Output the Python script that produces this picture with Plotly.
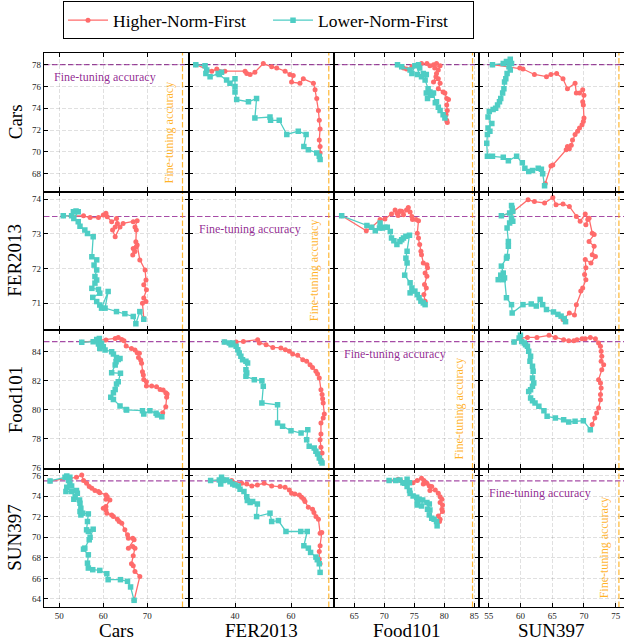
import plotly.graph_objects as go
from plotly.subplots import make_subplots

# ---------------- data ----------------
datasets = ["Cars", "FER2013", "Food101", "SUN397"]
finetune_acc = [78.0, 73.5, 84.7, 75.5]
series_names = ["Higher-Norm-First", "Lower-Norm-First"]

# axis layout values (range / tick step) per dataset
x_ranges = [[46.52, 79.48], [23.57, 75.36], [61.62, 85.78], [53.48, 76.3]]
x_dticks = [10, 20, 5, 5]
y_ranges = [[66.37, 79.07], [70.23, 74.22], [75.94, 85.50], [63.22, 76.70]]
y_dticks = [2, 1, 2, 2]

# --- row Cars (y = Cars acc) ---
cars_fer_hnf_x = [26.0, 31.7, 33.5, 36.4, 43.6, 44.2, 45.4, 47.1, 50.1, 53.1, 54.9, 57.9, 59.6, 60.8, 60.2, 63.2, 64.4, 68.0, 68.6, 69.2, 69.8, 70.1, 70.4, 70.1, 70.4, 70.4]
cars_fer_hnf_y = [78.0, 77.4, 77.6, 77.4, 77.4, 77.2, 77.1, 77.3, 78.1, 77.8, 77.7, 77.4, 77.1, 77.0, 76.4, 76.3, 76.7, 76.3, 75.7, 74.9, 73.8, 72.9, 72.1, 71.1, 70.5, 69.9]
cars_fer_lnf_x = [26.0, 29.3, 29.9, 29.6, 31.1, 34.0, 35.2, 34.4, 37.0, 38.2, 40.0, 40.0, 40.0, 40.6, 44.8, 47.7, 47.1, 52.5, 52.7, 55.8, 58.5, 62.6, 65.4, 64.6, 66.2, 69.2, 70.1, 70.4]
cars_fer_lnf_y = [78.0, 77.9, 77.5, 77.2, 76.9, 77.2, 77.3, 77.1, 76.6, 76.3, 76.7, 76.0, 75.5, 74.8, 74.6, 74.9, 73.1, 73.2, 72.9, 72.9, 71.6, 71.9, 71.6, 70.5, 70.2, 69.9, 69.6, 69.3]

cars_food_hnf_x = [72.2, 73.2, 73.7, 74.6, 75.4, 76.2, 77.1, 77.6, 78.2, 78.7, 79.3, 78.4, 79.0, 78.7, 78.6, 78.2, 79.0, 79.3, 79.0, 79.8, 80.1, 80.4, 80.7, 80.4, 80.5, 80.3, 80.4, 80.5]
cars_food_hnf_y = [78.0, 77.7, 77.6, 77.8, 77.9, 78.1, 78.1, 77.9, 78.0, 78.1, 77.9, 77.7, 77.5, 77.2, 76.9, 76.4, 76.7, 76.3, 75.8, 75.5, 75.4, 74.9, 74.8, 74.3, 73.8, 73.4, 72.9, 72.7]
cars_food_lnf_x = [72.2, 72.9, 74.3, 74.6, 75.1, 75.7, 75.9, 75.5, 76.2, 76.5, 77.0, 76.8, 77.3, 77.0, 77.6, 77.2, 77.9, 78.2, 78.5, 78.7, 79.0, 79.3, 79.8, 80.1]
cars_food_lnf_y = [78.0, 77.8, 77.5, 77.2, 77.9, 78.0, 77.7, 77.1, 76.9, 77.2, 77.1, 76.6, 75.8, 75.4, 75.5, 74.9, 75.2, 75.4, 74.5, 74.6, 74.1, 73.8, 73.4, 73.1]

cars_sun_hnf_x = [55.6, 59.9, 60.4, 62.2, 64.1, 64.8, 65.7, 66.7, 67.4, 68.6, 68.8, 69.3, 69.8, 70.0, 69.8, 69.9, 70.0, 69.9, 69.7, 69.3, 69.0, 68.6, 68.2, 68.0, 67.4, 67.7, 67.2, 65.1, 64.8, 63.9]
cars_sun_hnf_y = [78.0, 77.7, 77.6, 77.1, 76.9, 77.1, 77.2, 76.7, 75.8, 76.3, 75.4, 75.4, 75.7, 75.2, 74.6, 74.3, 73.1, 72.8, 72.5, 72.2, 71.9, 71.6, 71.1, 70.6, 70.5, 70.3, 70.2, 68.8, 68.7, 67.1]
cars_sun_lnf_x = [55.6, 57.3, 57.8, 58.4, 58.6, 58.2, 58.4, 57.9, 57.7, 57.5, 57.4, 57.2, 56.9, 56.7, 56.4, 56.1, 55.7, 55.1, 54.9, 55.5, 54.9, 55.2, 54.8, 54.7, 54.8, 55.6, 57.3, 58.1, 59.4, 60.3, 60.7, 61.3, 61.9, 62.8, 63.3, 63.5, 63.8]
cars_sun_lnf_y = [78.0, 78.1, 78.3, 78.5, 78.1, 77.8, 77.5, 77.2, 76.7, 76.4, 75.8, 75.4, 74.9, 74.6, 74.3, 74.0, 73.9, 73.7, 73.2, 72.6, 72.2, 71.9, 71.6, 70.8, 69.6, 69.6, 69.5, 69.2, 69.6, 69.0, 68.5, 68.2, 68.3, 68.5, 68.4, 68.0, 66.9]

# --- row FER2013 (y = FER2013 acc) ---
fer_cars_hnf_x = [50.9, 55.5, 57.0, 58.9, 60.0, 60.6, 60.9, 61.9, 63.0, 63.2, 62.7, 62.1, 62.7, 63.8, 64.5, 66.8, 67.7, 67.2, 67.5, 67.4, 67.5, 66.8, 66.7, 67.2, 67.7, 68.3, 69.5, 69.7, 69.2, 69.8, 69.2, 69.7, 68.9, 69.2]
fer_cars_hnf_y = [73.52, 73.52, 73.47, 73.47, 73.54, 73.59, 73.49, 73.35, 73.44, 73.30, 73.20, 73.11, 72.92, 73.20, 73.30, 73.35, 73.38, 73.20, 73.11, 72.77, 72.63, 72.58, 72.39, 72.49, 72.68, 72.25, 71.96, 71.67, 71.53, 71.39, 71.15, 71.05, 71.00, 70.56]
fer_cars_lnf_x = [50.9, 52.8, 53.2, 53.8, 54.3, 53.3, 54.3, 54.7, 55.8, 56.4, 57.7, 57.4, 58.5, 57.9, 58.5, 58.1, 58.5, 58.1, 57.4, 58.9, 59.2, 57.6, 58.5, 59.2, 59.6, 61.1, 60.4, 63.0, 64.9, 66.8, 67.4, 68.3, 69.2]
fer_cars_lnf_y = [73.52, 73.52, 73.64, 73.66, 73.64, 73.44, 73.35, 73.22, 73.11, 73.01, 72.92, 72.34, 72.25, 72.10, 71.96, 71.77, 71.67, 71.58, 71.43, 71.40, 71.29, 71.17, 71.05, 70.95, 70.86, 71.34, 70.86, 70.76, 70.70, 70.62, 70.41, 70.76, 70.54]

fer_food_hnf_x = [62.9, 67.0, 67.9, 69.3, 70.1, 71.2, 71.8, 72.1, 72.6, 72.3, 72.9, 73.2, 73.7, 74.0, 74.3, 74.6, 74.7, 75.3, 75.7, 75.5, 75.7, 75.9, 76.1, 76.2, 76.5, 77.1, 77.2, 76.8, 77.1, 76.7, 77.0, 76.6, 76.8]
fer_food_hnf_y = [73.52, 73.09, 73.19, 73.41, 73.43, 73.57, 73.69, 73.60, 73.66, 73.53, 73.65, 73.55, 73.69, 73.76, 73.63, 73.50, 73.41, 73.41, 73.38, 73.02, 72.88, 72.69, 72.50, 72.40, 72.16, 72.11, 72.02, 71.87, 71.78, 71.54, 71.44, 71.25, 71.06]
fer_food_lnf_x = [62.9, 67.1, 67.9, 68.5, 69.2, 69.3, 69.7, 70.1, 70.5, 71.0, 71.2, 71.6, 72.1, 72.6, 72.9, 73.2, 73.6, 74.2, 73.8, 73.6, 73.8, 73.4, 74.3, 74.6, 74.3, 75.1, 75.5, 75.8, 76.1, 76.5, 76.8]
fer_food_lnf_y = [73.52, 73.24, 73.19, 73.09, 73.17, 73.31, 73.17, 73.19, 73.19, 73.07, 72.88, 72.80, 72.69, 72.78, 72.83, 72.88, 72.93, 72.96, 72.50, 72.30, 72.16, 71.81, 71.59, 71.44, 71.30, 71.35, 71.25, 71.16, 71.06, 71.01, 70.96]

fer_sun_hnf_x = [57.0, 58.8, 61.2, 62.2, 63.8, 65.1, 65.6, 66.7, 67.7, 68.8, 69.4, 70.2, 70.6, 70.3, 70.8, 71.3, 71.6, 70.8, 71.6, 71.3, 71.8, 71.1, 70.2, 70.3, 70.1, 70.3, 69.8, 69.5, 68.8, 68.5, 67.7, 66.7]
fer_sun_hnf_y = [73.52, 73.63, 73.98, 73.93, 73.89, 74.05, 73.84, 73.86, 73.79, 73.50, 73.36, 73.57, 73.41, 73.26, 73.45, 73.02, 72.98, 72.78, 72.64, 72.40, 72.35, 72.16, 72.26, 72.02, 71.83, 71.68, 71.44, 71.35, 70.96, 70.66, 70.72, 70.53]
fer_sun_lnf_x = [57.0, 58.3, 58.7, 58.6, 58.8, 58.6, 58.8, 58.3, 57.9, 58.1, 58.1, 57.9, 57.8, 57.0, 57.3, 56.9, 56.5, 57.3, 57.5, 57.8, 58.6, 58.7, 60.4, 61.7, 62.5, 63.1, 63.5, 64.1, 65.2, 65.9, 66.4, 66.9, 67.1]
fer_sun_lnf_y = [73.52, 73.60, 73.74, 73.82, 73.65, 73.45, 73.36, 73.31, 73.17, 72.78, 72.64, 72.35, 72.30, 72.07, 71.87, 71.81, 71.68, 71.68, 71.73, 71.16, 70.96, 70.72, 70.96, 70.98, 70.92, 71.11, 70.96, 70.82, 70.75, 70.68, 70.63, 70.56, 70.47]

# --- row Food101 (y = Food101 acc) ---
food_cars_hnf_x = [55.1, 58.5, 60.6, 62.7, 63.4, 64.2, 64.7, 65.2, 66.4, 67.2, 67.7, 68.2, 68.0, 68.5, 68.7, 68.9, 69.1, 69.2, 69.8, 69.8, 71.0, 72.1, 72.9, 73.6, 74.2, 74.5, 74.4, 74.2, 73.5]
food_cars_hnf_y = [84.65, 84.76, 84.81, 84.92, 84.99, 84.85, 84.76, 84.39, 84.23, 84.12, 83.93, 83.89, 83.61, 83.43, 83.20, 82.62, 82.39, 82.09, 81.93, 81.63, 81.63, 81.59, 81.40, 81.36, 81.17, 81.08, 80.85, 80.21, 79.79]
food_cars_lnf_x = [55.1, 57.7, 58.5, 59.1, 58.9, 59.6, 59.2, 60.0, 60.4, 61.9, 62.3, 63.0, 63.4, 63.8, 62.9, 62.7, 61.9, 63.9, 63.4, 63.0, 62.7, 62.3, 61.7, 62.3, 63.8, 65.2, 65.3, 68.9, 69.2, 70.6, 72.0, 72.3, 73.3]
food_cars_lnf_y = [84.65, 84.69, 84.85, 84.92, 84.53, 84.58, 84.23, 84.35, 84.12, 84.00, 83.84, 83.61, 83.47, 83.54, 83.31, 83.08, 82.55, 82.51, 81.93, 81.77, 81.40, 81.17, 80.85, 80.71, 80.25, 80.02, 79.98, 79.93, 79.70, 79.93, 79.75, 79.64, 79.52]

food_fer_hnf_x = [36.2, 40.4, 43.0, 48.1, 48.7, 51.1, 53.5, 56.4, 58.0, 59.4, 60.6, 62.4, 64.2, 65.6, 66.8, 67.7, 68.9, 69.5, 70.1, 70.7, 71.1, 71.3, 71.5, 71.9, 71.5, 70.7, 70.7, 70.4, 70.7, 71.1, 70.7]
food_fer_hnf_y = [84.67, 84.67, 84.71, 84.83, 84.60, 84.49, 84.30, 84.26, 84.14, 84.03, 83.84, 83.75, 83.45, 83.34, 83.11, 82.92, 82.65, 82.46, 82.19, 81.38, 81.04, 80.76, 80.46, 79.70, 79.43, 79.08, 78.32, 77.93, 77.40, 77.01, 76.55]
food_fer_lnf_x = [36.2, 38.0, 38.6, 39.2, 40.4, 41.0, 41.5, 42.1, 42.7, 43.9, 44.5, 43.9, 44.2, 43.9, 46.9, 49.6, 50.1, 49.6, 55.2, 55.2, 57.0, 60.0, 63.6, 66.0, 65.6, 66.5, 68.3, 68.9, 69.5, 70.1, 70.7, 71.1]
food_fer_lnf_y = [84.67, 84.60, 84.49, 84.60, 84.37, 84.14, 83.91, 83.68, 83.45, 83.34, 83.22, 82.76, 82.53, 82.30, 82.07, 82.00, 81.61, 80.46, 80.34, 79.08, 78.85, 78.55, 78.39, 78.62, 77.93, 77.47, 77.36, 77.13, 76.94, 76.67, 76.44, 76.32]

food_sun_hnf_x = [59.0, 60.0, 61.1, 62.6, 64.5, 65.5, 66.8, 67.6, 68.4, 68.9, 69.7, 70.2, 71.0, 71.8, 72.3, 72.6, 72.7, 72.8, 72.7, 73.1, 72.8, 72.3, 72.6, 72.7, 72.6, 72.6, 72.3, 72.0, 71.7, 71.3, 71.0]
food_sun_hnf_y = [84.67, 84.94, 84.99, 84.99, 85.13, 84.99, 84.83, 84.76, 84.76, 84.83, 84.90, 84.90, 84.99, 84.90, 84.60, 84.37, 84.03, 83.68, 83.34, 83.11, 82.76, 82.07, 81.84, 81.50, 81.04, 80.69, 80.11, 79.77, 79.43, 78.97, 78.62]
food_sun_lnf_x = [59.0, 59.8, 60.0, 60.2, 60.6, 60.8, 61.1, 61.3, 61.6, 61.5, 61.9, 62.0, 61.9, 62.1, 61.9, 61.6, 61.3, 61.6, 61.9, 62.3, 62.9, 63.7, 64.2, 65.5, 66.8, 67.6, 68.6, 69.9, 71.0]
food_sun_lnf_y = [84.67, 84.94, 85.13, 84.71, 84.60, 84.49, 84.37, 84.03, 83.68, 83.34, 82.99, 82.65, 82.19, 81.84, 81.61, 81.38, 81.26, 80.80, 80.62, 80.46, 80.23, 79.93, 79.54, 79.43, 79.31, 79.15, 79.20, 79.24, 78.62]

# --- row SUN397 (y = SUN397 acc) ---
sun_cars_hnf_x = [47.9, 52.4, 53.9, 55.1, 55.5, 56.2, 56.8, 57.4, 58.1, 58.9, 59.2, 60.6, 60.9, 60.6, 61.5, 60.6, 60.0, 60.6, 60.8, 61.9, 62.3, 63.2, 63.6, 64.2, 64.9, 65.5, 65.7, 66.7, 67.0, 65.7, 66.7, 67.2, 66.8, 66.4, 66.8, 67.2, 68.3, 67.0]
sun_cars_hnf_y = [75.49, 75.74, 75.84, 76.07, 75.52, 75.26, 74.94, 74.78, 74.55, 74.45, 74.35, 74.13, 73.96, 73.71, 73.64, 72.99, 72.83, 72.67, 72.35, 72.18, 72.02, 71.76, 71.54, 71.38, 70.73, 70.24, 69.92, 69.92, 69.76, 68.95, 69.11, 68.95, 68.20, 67.43, 67.23, 66.68, 66.19, 63.87]
sun_cars_lnf_x = [47.9, 51.3, 51.7, 52.4, 52.1, 52.4, 52.8, 51.7, 51.5, 52.8, 53.9, 54.1, 53.6, 53.3, 54.6, 54.7, 54.9, 54.7, 54.9, 55.3, 56.6, 56.4, 56.2, 56.6, 57.7, 57.0, 56.8, 55.8, 55.5, 56.6, 56.4, 56.6, 57.6, 59.2, 60.8, 61.1, 63.9, 65.5, 66.2, 67.0]
sun_cars_lnf_y = [75.49, 75.84, 75.97, 75.84, 75.52, 75.26, 75.00, 74.87, 74.45, 74.45, 74.55, 74.29, 73.96, 73.71, 73.64, 73.32, 72.83, 72.51, 72.18, 72.35, 72.28, 71.54, 70.73, 70.57, 70.79, 70.01, 69.76, 68.95, 68.85, 68.30, 67.49, 67.01, 66.85, 66.78, 66.46, 65.88, 65.88, 65.72, 65.17, 63.87]

sun_fer_hnf_x = [31.3, 36.4, 38.8, 42.4, 44.2, 46.0, 48.0, 50.4, 53.1, 56.1, 57.9, 59.4, 60.2, 61.4, 63.0, 63.8, 64.6, 65.0, 66.2, 67.7, 68.2, 68.9, 69.8, 70.4, 71.0, 70.4, 70.1, 70.1, 70.4]
sun_fer_hnf_y = [75.52, 75.58, 75.52, 75.26, 75.19, 75.00, 75.10, 75.26, 75.00, 74.94, 74.87, 74.61, 74.29, 74.22, 74.12, 73.90, 73.71, 73.48, 72.93, 72.73, 72.41, 72.02, 71.76, 70.40, 70.47, 69.18, 68.63, 67.88, 67.43]
sun_fer_lnf_x = [31.3, 34.4, 35.2, 34.9, 35.8, 37.0, 38.2, 39.2, 40.0, 41.2, 41.8, 43.2, 44.2, 44.4, 45.4, 46.3, 48.0, 47.7, 52.5, 53.1, 55.5, 58.2, 63.5, 65.8, 64.6, 66.2, 67.0, 68.9, 69.4, 70.1, 70.4]
sun_fer_lnf_y = [75.52, 75.58, 75.84, 75.19, 75.52, 75.58, 75.42, 75.19, 75.10, 75.00, 74.68, 74.45, 73.96, 73.58, 73.38, 73.48, 73.25, 72.02, 72.35, 71.54, 71.63, 70.57, 70.57, 70.57, 69.18, 68.95, 68.53, 68.08, 67.82, 67.43, 66.59]

sun_food_hnf_x = [70.8, 72.3, 72.7, 74.8, 75.5, 76.2, 76.6, 76.5, 77.1, 77.5, 77.9, 77.6, 78.5, 79.0, 79.3, 79.6, 79.3, 79.7, 79.6, 79.7, 79.0, 79.3, 79.2]
sun_food_hnf_y = [75.52, 75.65, 75.52, 75.32, 75.52, 75.74, 75.52, 75.19, 75.26, 75.00, 74.94, 74.55, 74.61, 74.29, 73.96, 73.71, 73.38, 73.15, 72.73, 72.51, 72.08, 71.76, 71.54]
sun_food_lnf_x = [70.8, 71.9, 72.6, 73.1, 73.4, 73.8, 74.2, 73.8, 74.2, 74.3, 74.8, 75.4, 75.8, 75.5, 75.5, 76.2, 76.4, 77.1, 77.5, 77.2, 77.6, 77.5, 77.9, 78.3, 78.7, 78.8]
sun_food_lnf_y = [75.52, 75.52, 75.58, 75.32, 75.26, 75.65, 75.32, 74.94, 74.55, 74.29, 74.03, 73.90, 73.71, 73.38, 73.15, 73.06, 73.64, 73.38, 73.25, 72.73, 72.67, 72.18, 71.86, 71.76, 71.54, 71.12]

# (row index, col index) -> (hnf_x, hnf_y, lnf_x, lnf_y)
panels = {
    (0, 1): (cars_fer_hnf_x, cars_fer_hnf_y, cars_fer_lnf_x, cars_fer_lnf_y),
    (0, 2): (cars_food_hnf_x, cars_food_hnf_y, cars_food_lnf_x, cars_food_lnf_y),
    (0, 3): (cars_sun_hnf_x, cars_sun_hnf_y, cars_sun_lnf_x, cars_sun_lnf_y),
    (1, 0): (fer_cars_hnf_x, fer_cars_hnf_y, fer_cars_lnf_x, fer_cars_lnf_y),
    (1, 2): (fer_food_hnf_x, fer_food_hnf_y, fer_food_lnf_x, fer_food_lnf_y),
    (1, 3): (fer_sun_hnf_x, fer_sun_hnf_y, fer_sun_lnf_x, fer_sun_lnf_y),
    (2, 0): (food_cars_hnf_x, food_cars_hnf_y, food_cars_lnf_x, food_cars_lnf_y),
    (2, 1): (food_fer_hnf_x, food_fer_hnf_y, food_fer_lnf_x, food_fer_lnf_y),
    (2, 3): (food_sun_hnf_x, food_sun_hnf_y, food_sun_lnf_x, food_sun_lnf_y),
    (3, 0): (sun_cars_hnf_x, sun_cars_hnf_y, sun_cars_lnf_x, sun_cars_lnf_y),
    (3, 1): (sun_fer_hnf_x, sun_fer_hnf_y, sun_fer_lnf_x, sun_fer_lnf_y),
    (3, 2): (sun_food_hnf_x, sun_food_hnf_y, sun_food_lnf_x, sun_food_lnf_y),
}

# ---------------- style ----------------
SERIF = "Liberation Serif"
RED = "#FF6B6B"
TEAL = "#4ECDC4"
PURPLE_LINE = "rgba(128,0,128,0.7)"
ORANGE_LINE = "rgba(255,165,0,0.8)"
PURPLE_TEXT = "rgba(128,0,128,0.85)"
ORANGE_TEXT = "rgba(255,165,0,0.85)"

fig = make_subplots(rows=4, cols=4, shared_xaxes=True, shared_yaxes=True,
                    horizontal_spacing=0, vertical_spacing=0)

legend_shown = False
for (r, c), (hx, hy, lx, ly) in panels.items():
    fig.add_trace(go.Scatter(
        x=hx, y=hy, mode="lines+markers", name=series_names[0],
        line=dict(color=RED, width=1.3),
        marker=dict(symbol="circle", size=5, color=RED),
        showlegend=not legend_shown, legendgroup="h"), row=r + 1, col=c + 1)
    fig.add_trace(go.Scatter(
        x=lx, y=ly, mode="lines+markers", name=series_names[1],
        line=dict(color=TEAL, width=1.3),
        marker=dict(symbol="square", size=5.5, color=TEAL),
        showlegend=not legend_shown, legendgroup="l"), row=r + 1, col=c + 1)
    legend_shown = True

axis_common = dict(
    showline=True, linecolor="black", linewidth=1.2, mirror="ticks",
    ticks="inside", ticklen=4, tickwidth=1, tickcolor="black",
    showgrid=True, gridcolor="rgba(0,0,0,0.12)", griddash="4px,2px", gridwidth=0.8,
    zeroline=False, tickfont=dict(family=SERIF, size=9, color="#222"),
    automargin=False,
)

for c in range(4):
    fig.update_xaxes(range=x_ranges[c], dtick=x_dticks[c], tick0=0, col=c + 1, **axis_common)
for r in range(4):
    fig.update_yaxes(range=y_ranges[r], dtick=y_dticks[r], tick0=0, row=r + 1, **axis_common)

shapes = []
annotations = []
for r in range(4):
    for c in range(4):
        k = r * 4 + c + 1
        kk = "" if k == 1 else str(k)
        # horizontal fine-tuning line (row dataset)
        shapes.append(dict(type="line", xref=f"x{kk} domain", yref=f"y{kk}",
                           x0=0, x1=1, y0=finetune_acc[r], y1=finetune_acc[r],
                           line=dict(color=PURPLE_LINE, width=1.2, dash="5.5px,2.5px"),
                           layer="below"))
        # vertical fine-tuning line (column dataset)
        shapes.append(dict(type="line", xref=f"x{kk}", yref=f"y{kk} domain",
                           x0=finetune_acc[c], x1=finetune_acc[c], y0=0, y1=1,
                           line=dict(color=ORANGE_LINE, width=1.2, dash="5.5px,2.5px"),
                           layer="below"))
        if r == c:
            annotations.append(dict(
                text="Fine-tuning accuracy", xref=f"x{kk} domain", yref=f"y{kk}",
                x=0.055, y=finetune_acc[r], xanchor="left", yanchor="middle",
                yshift=-12.5, showarrow=False,
                font=dict(family=SERIF, size=12, color=PURPLE_TEXT)))
            annotations.append(dict(
                text="Fine-tuning accuracy", xref=f"x{kk}", yref=f"y{kk} domain",
                x=finetune_acc[c], y=0.43, xanchor="center", yanchor="middle",
                xshift=-14, textangle=-90, showarrow=False,
                font=dict(family=SERIF, size=12, color=ORANGE_TEXT)))

# row / column titles
for i, name in enumerate(datasets):
    annotations.append(dict(
        text=name, xref="paper", yref="paper", x=(i + 0.5) / 4, y=-0.0425,
        xanchor="center", yanchor="middle", showarrow=False,
        font=dict(family=SERIF, size=19, color="black")))
    annotations.append(dict(
        text=name, xref="paper", yref="paper", x=-0.05, y=1 - (i + 0.5) / 4,
        xanchor="center", yanchor="middle", textangle=-90, showarrow=False,
        font=dict(family=SERIF, size=19, color="black")))

fig.update_layout(
    width=624, height=642,
    margin=dict(l=44, r=0, t=53, b=35, autoexpand=False),
    paper_bgcolor="white", plot_bgcolor="white",
    shapes=shapes, annotations=annotations,
    font=dict(family=SERIF),
    hovermode=False,
    legend=dict(orientation="h", xref="container", yref="container",
                x=0.101, xanchor="left", y=0.998, yanchor="top",
                bordercolor="black", borderwidth=1, bgcolor="white",
                font=dict(family=SERIF, size=17.5, color="black"),
                entrywidth=150, itemwidth=40),
)

# the page's default body margin would offset the figure by 8px; remove it
fig.write_html("out.html",
               config={"displayModeBar": False},
               post_script="document.body.style.margin='0';document.body.style.padding='0';")
